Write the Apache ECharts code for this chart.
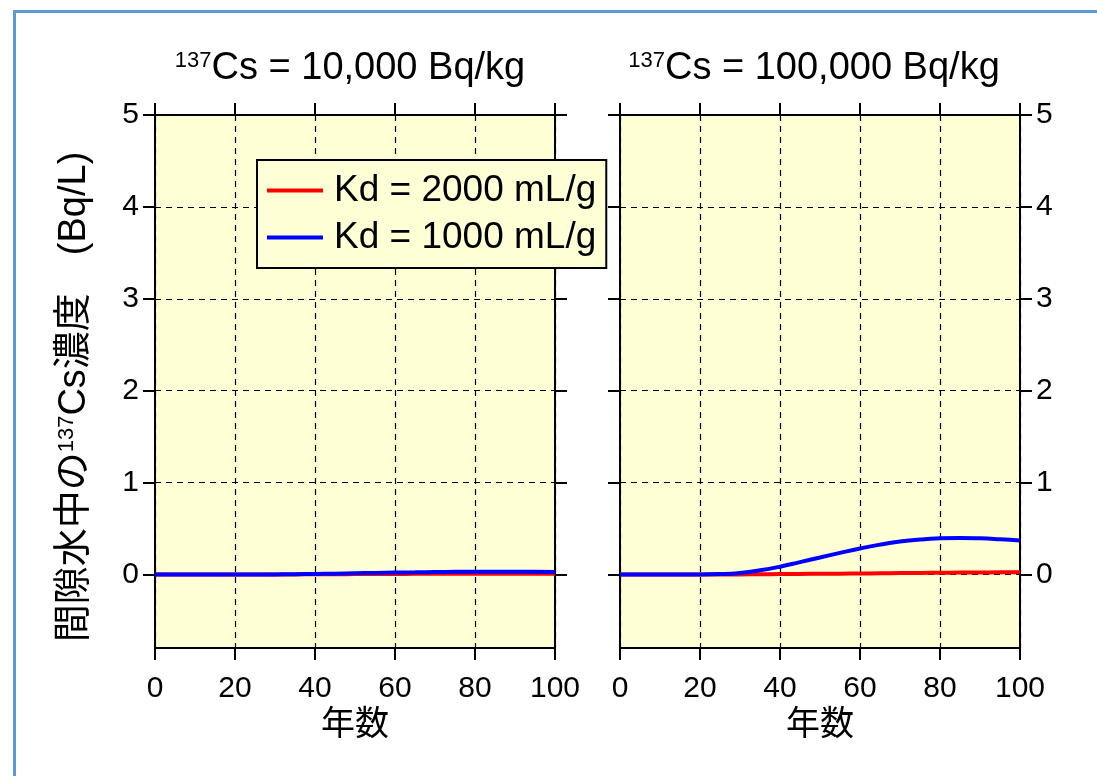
<!DOCTYPE html>
<html>
<head>
<meta charset="utf-8">
<script src="https://cdn.jsdelivr.net/npm/echarts@6/dist/echarts.min.js"></script>
<style>
html,body{margin:0;padding:0;background:#fff;}
#chart{width:1097px;height:776px;}
</style>
</head>
<body>
<div id="chart"></div>
<script>
// ---- data ----
const years = [0,5,10,15,20,25,30,35,40,45,50,55,60,65,70,75,80,85,90,95,100];
const leftKd2000 = [0,0,0,0,0,0,0,0.001,0.002,0.003,0.004,0.005,0.006,0.007,0.008,0.008,0.009,0.009,0.009,0.009,0.008];
const leftKd1000 = [0,0,0,0,0,0,0.001,0.003,0.006,0.009,0.013,0.017,0.021,0.024,0.027,0.029,0.031,0.031,0.031,0.029,0.027];
const rightKd2000 = [0,0,0,0,0,0,0.001,0.002,0.004,0.006,0.008,0.009,0.011,0.013,0.015,0.017,0.019,0.021,0.022,0.023,0.024];
const rightKd1000 = [0,0,0,0,0,0.004,0.017,0.045,0.085,0.135,0.185,0.235,0.283,0.325,0.358,0.38,0.393,0.397,0.393,0.383,0.37];
const xTicks = [0,20,40,60,80,100];
const yTicks = [0,1,2,3,4,5];
const seriesNames = ['Kd = 2000 mL/g','Kd = 1000 mL/g'];
const titles = ['{s|137}Cs = 10,000 Bq/kg','{s|137}Cs = 100,000 Bq/kg'];
const yName = '間隙水中の{s|137}Cs濃度　(Bq/L)';
const xName = '年数';

const FONT = 'Liberation Sans, Arial, Noto Sans CJK JP, sans-serif';
const BG = '#FFFFD6';
const grids = [
  {left:155, top:115, width:400, height:533},
  {left:620, top:115, width:400, height:533}
];
grids.forEach(g => { g.show = true; g.backgroundColor = BG; g.borderWidth = 0; });
const titleCenters = [345, 809];

function xAx(gi, pos, labeled){
  return {
    type:'value', gridIndex:gi, position:pos, min:0, max:100, interval:20,
    axisLine:{show:true, onZero:false, lineStyle:{color:'#000', width:2}},
    axisTick:{show:true, length:12, lineStyle:{color:'#000', width:2}},
    axisLabel:{show:labeled, margin:26, color:'#000', fontSize:30, fontFamily:FONT},
    splitLine:{show:labeled, lineStyle:{color:'#000', width:1.2, type:[6,5]}},
    name: labeled ? xName : '', nameLocation:'middle', nameGap:53,
    nameTextStyle:{color:'#000', fontSize:34, fontFamily:FONT}
  };
}
function yAx(gi, pos, labeled, grid){
  return {
    type:'value', gridIndex:gi, position:pos, min:-0.8, max:5,
    axisLine:{show:true, onZero:false, lineStyle:{color:'#000', width:2}},
    axisTick:{show:true, length:12, customValues:yTicks, lineStyle:{color:'#000', width:2}},
    axisLabel:{show:labeled, customValues:yTicks, margin:16, color:'#000', fontSize:30, fontFamily:FONT},
    splitLine:{show:grid, lineStyle:{color:'#000', width:1.2, type:[6,5]}}
  };
}

const lineStyleOf = c => ({color:c, width:4});
function mk(name, data, xi, yi, color){
  return {
    name, type:'line', xAxisIndex:xi, yAxisIndex:yi, showSymbol:false, symbol:'none',
    smooth:true, data: years.map((y,i)=>[y,data[i]]),
    lineStyle: lineStyleOf(color), itemStyle:{color}, z:5
  };
}

const chart = echarts.init(document.getElementById('chart'), null, {renderer:'canvas'});
chart.setOption({
  animation:false,
  backgroundColor:'#fff',
  grid: grids,
  title: titles.map((t,i)=>({
    text:t, left: titleCenters[i], top:45, textAlign:'center',
    textStyle:{color:'#000', fontSize:38, fontWeight:'normal', fontFamily:FONT,
      rich:{s:{fontSize:22, verticalAlign:'top', fontFamily:FONT, color:'#000', padding:[0,0,15,0]}}}
  })),
  legend:{
    left:257, top:160, orient:'vertical', padding:[12,10,12,10], itemGap:10,
    itemWidth:56, itemHeight:4, icon:'rect',
    backgroundColor:BG, borderColor:'#000', borderWidth:2,
    textStyle:{color:'#000', fontSize:37, fontFamily:FONT, padding:[0,0,0,6]},
    data: seriesNames
  },
  xAxis:[xAx(0,'bottom',true), xAx(0,'top',false), xAx(1,'bottom',true), xAx(1,'top',false)],
  yAxis:[yAx(0,'left',true,true), yAx(0,'right',false,false), yAx(1,'right',true,true), yAx(1,'left',false,false)],
  series:[
    mk(seriesNames[0], leftKd2000, 0, 0, '#FF0000'),
    mk(seriesNames[1], leftKd1000, 0, 0, '#0000FF'),
    mk(seriesNames[0], rightKd2000, 2, 2, '#FF0000'),
    mk(seriesNames[1], rightKd1000, 2, 2, '#0000FF')
  ],
  graphic:[
    {type:'rect', left:12, top:9, shape:{width:1200, height:900}, silent:true,
      style:{fill:'none', stroke:'#5B9BD5', lineWidth:3}},
    {type:'text', x:75, y:397, rotation:Math.PI/2,
      style:{text:yName, fill:'#000', fontSize:38, fontFamily:FONT, align:'center', verticalAlign:'middle',
        rich:{s:{fontSize:22, verticalAlign:'top', fontFamily:FONT, fill:'#000', padding:[0,0,16,0]}}}}
  ]
});
</script>
</body>
</html>
